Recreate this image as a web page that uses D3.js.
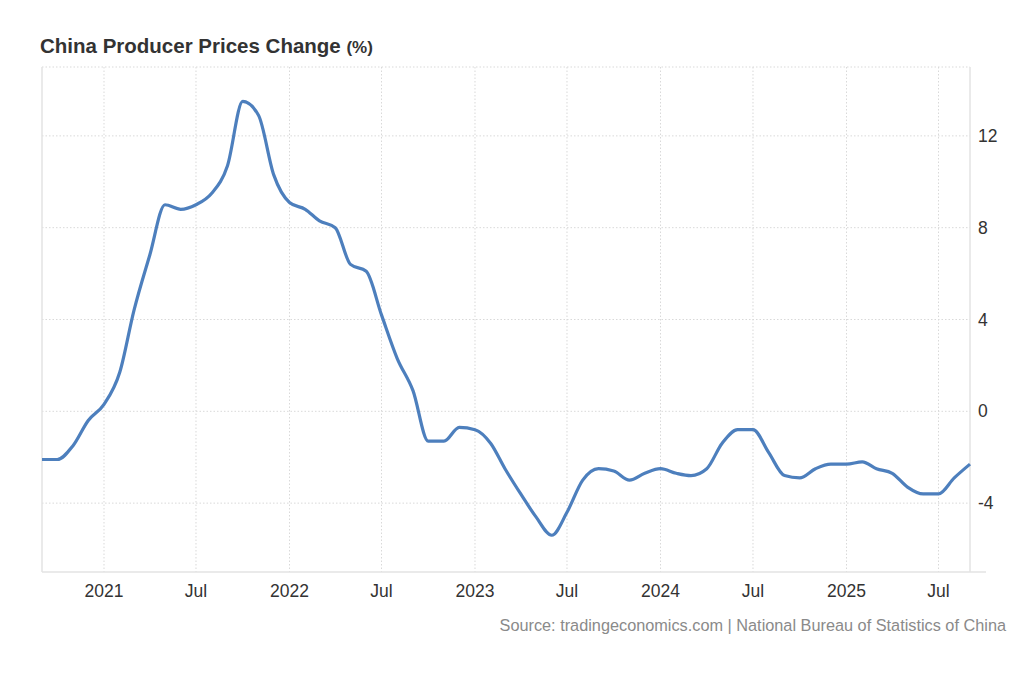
<!DOCTYPE html>
<html>
<head>
<meta charset="utf-8">
<script src="https://cdn.jsdelivr.net/npm/d3@7"></script>
<style>
	body { margin: 0; background: #fff; font-family: 'Liberation Sans', Arial, sans-serif; }
	.grid line { stroke: #d9d9d9; stroke-dasharray: 1.5 2; }
	.tick-label { fill: #333; font-size: 17.5px; }
</style>
</head>
<body>
<script>
// monthly PPI yoy, Sep 2020 .. Sep 2025
var months = d3.timeMonth.range(new Date(2020, 8, 1), new Date(2025, 9, 1));
var values = [
	-2.1, -2.1, -1.5, -0.4,
	0.3, 1.7, 4.4, 6.8, 9.0, 8.8, 9.0, 9.5, 10.7, 13.5, 12.9, 10.3,
	9.1, 8.8, 8.3, 8.0, 6.4, 6.1, 4.2, 2.3, 0.9, -1.3, -1.3, -0.7,
	-0.8, -1.4, -2.5, -3.6, -4.6, -5.4, -4.4, -3.0, -2.5, -2.6, -3.0, -2.7,
	-2.5, -2.7, -2.8, -2.5, -1.4, -0.8, -0.8, -1.8, -2.8, -2.9, -2.5, -2.3,
	-2.3, -2.2, -2.5, -2.7, -3.3, -3.6, -3.6, -2.9, -2.3
];
var xTicks = [new Date(2021, 0, 1), new Date(2021, 6, 1), new Date(2022, 0, 1), new Date(2022, 6, 1),
	new Date(2023, 0, 1), new Date(2023, 6, 1), new Date(2024, 0, 1), new Date(2024, 6, 1),
	new Date(2025, 0, 1), new Date(2025, 6, 1)];
var yTicks = [-4, 0, 4, 8, 12];

var data = months.map(function(m, i) { return { date: m, value: values[i] }; });

var svg = d3.select('body').append('svg')
	.attr('width', 1024)
	.attr('height', 700);

var plotLeft = 42, plotRight = 970, plotTop = 67, plotBottom = 572;

var x = d3.scaleTime()
	.domain([new Date(2020, 8, 1), new Date(2025, 8, 1)])
	.range([plotLeft, plotRight]);

var y = d3.scaleLinear()
	.domain([-7, 15])
	.range([plotBottom, plotTop]);

var grid = svg.append('g').attr('class', 'grid');

grid.selectAll('.vg')
	.data(xTicks)
	.enter().append('line')
	.attr('x1', function(d) { return x(d); })
	.attr('x2', function(d) { return x(d); })
	.attr('y1', plotTop)
	.attr('y2', plotBottom);

grid.selectAll('.hg')
	.data(yTicks.concat([15]))
	.enter().append('line')
	.attr('x1', plotLeft)
	.attr('x2', plotRight)
	.attr('y1', function(d) { return y(d); })
	.attr('y2', function(d) { return y(d); });

// frame
svg.append('line').attr('x1', plotLeft).attr('x2', plotLeft).attr('y1', plotTop).attr('y2', plotBottom)
	.attr('stroke', '#e3e3e3').attr('stroke-width', 1.5);
svg.append('line').attr('x1', plotRight).attr('x2', plotRight).attr('y1', plotTop).attr('y2', plotBottom)
	.attr('stroke', '#e3e3e3').attr('stroke-width', 1.5);
svg.append('line').attr('x1', plotLeft).attr('x2', plotRight + 16).attr('y1', plotBottom).attr('y2', plotBottom)
	.attr('stroke', '#e3e3e3').attr('stroke-width', 1.5);

svg.selectAll('.xl')
	.data(xTicks)
	.enter().append('text')
	.attr('class', 'tick-label')
	.attr('x', function(d) { return x(d); })
	.attr('y', 597)
	.attr('text-anchor', 'middle')
	.text(function(d) { return d.getMonth() === 0 ? d3.timeFormat('%Y')(d) : d3.timeFormat('%b')(d); });

svg.selectAll('.yl')
	.data(yTicks)
	.enter().append('text')
	.attr('class', 'tick-label')
	.attr('x', 978)
	.attr('y', function(d) { return y(d) + 6; })
	.text(function(d) { return d; });

var line = d3.line()
	.x(function(d) { return x(d.date); })
	.y(function(d) { return y(d.value); })
	.curve(d3.curveMonotoneX);

svg.append('path')
	.datum(data)
	.attr('fill', 'none')
	.attr('stroke', '#4d7fbd')
	.attr('stroke-width', 3.2)
	.attr('stroke-linejoin', 'round')
	.attr('d', line);

var title = svg.append('text')
	.attr('x', 40)
	.attr('y', 53)
	.attr('fill', '#333')
	.attr('font-weight', 'bold')
	.attr('font-size', 20.5);
title.append('tspan').text('China Producer Prices Change ');
title.append('tspan').attr('font-size', 17).text('(%)');

svg.append('text')
	.attr('x', 1006)
	.attr('y', 631)
	.attr('text-anchor', 'end')
	.attr('fill', '#8a8a8a')
	.attr('font-size', 16.3)
	.text('Source: tradingeconomics.com | National Bureau of Statistics of China');
</script>
</body>
</html>
